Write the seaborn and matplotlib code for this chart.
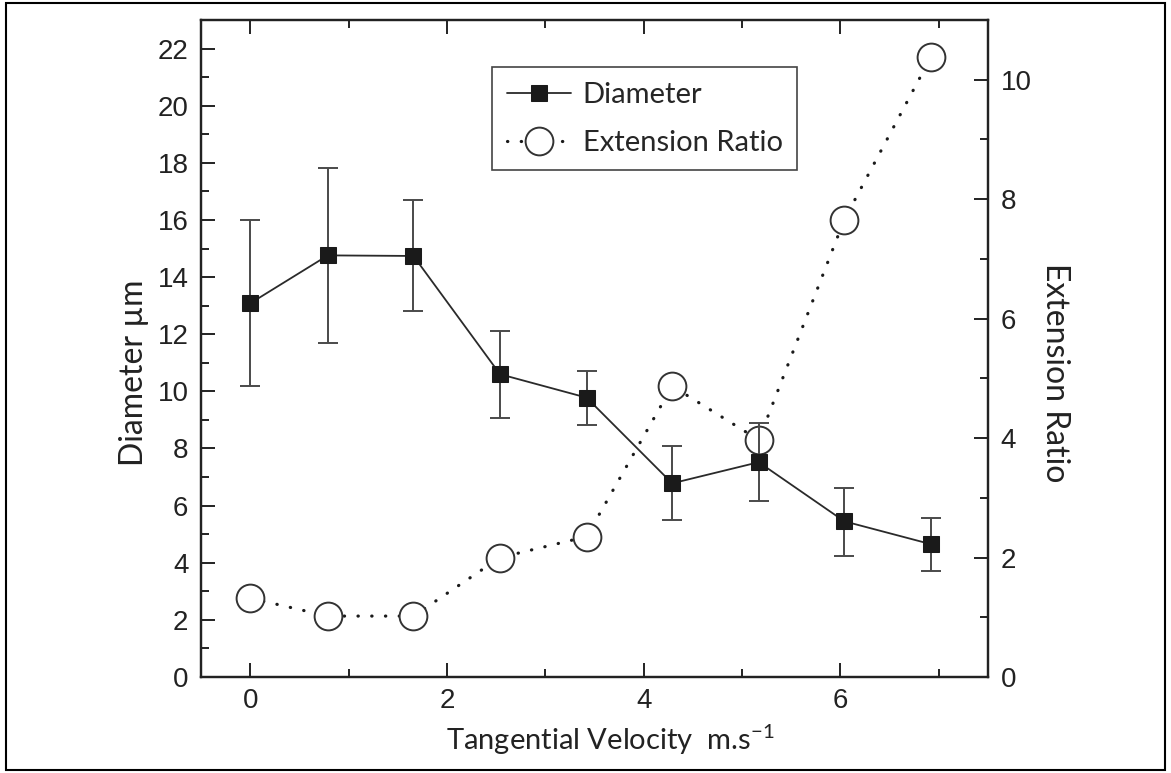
import matplotlib
matplotlib.use("Agg")
import matplotlib.pyplot as plt
import seaborn as sns
import numpy as np
import pandas as pd
from matplotlib.ticker import MultipleLocator
from matplotlib.patches import Rectangle

# ---- data ----
velocity = [0.0, 0.79, 1.66, 2.54, 3.42, 4.29, 5.17, 6.04, 6.92]
diameter = [13.08, 14.76, 14.74, 10.60, 9.78, 6.78, 7.52, 5.45, 4.65]
diam_upper = [16.0, 17.83, 16.71, 12.13, 10.72, 8.08, 8.88, 6.60, 5.58]
diam_lower = [10.17, 11.68, 12.80, 9.06, 8.81, 5.49, 6.15, 4.25, 3.72]
extension_ratio = [1.32, 1.02, 1.02, 2.00, 2.35, 4.87, 3.97, 7.66, 10.38]

xlabel = "Tangential Velocity  m.s$^{\\mathregular{-1}}$"
ylabel_left = "Diameter µm"
ylabel_right = "Extension Ratio"

df = pd.DataFrame({"v": velocity, "d": diameter, "lo": diam_lower,
                   "hi": diam_upper, "er": extension_ratio})

sns.set_style("ticks")
plt.rcParams["font.family"] = ["Liberation Sans", "DejaVu Sans"]
plt.rcParams["font.sans-serif"] = ["Liberation Sans", "DejaVu Sans"]
label_font = ["Lato", "DejaVu Sans"]

fig = plt.figure(figsize=(11.71, 7.73), dpi=100)
ax = fig.add_axes([0.1716, 0.1242, 0.6721, 0.8499])
ax2 = ax.twinx()

# error bars
yerr = np.array([df["d"] - df["lo"], df["hi"] - df["d"]])
ax.errorbar(df["v"], df["d"], yerr=yerr, fmt="none", ecolor="#4a4a4a",
            elinewidth=1.4, capsize=7, capthick=1.4, zorder=2)

sns.lineplot(data=df, x="v", y="d", ax=ax, color="#2a2a2a", linewidth=1.3,
             marker="s", markersize=12, markerfacecolor="#1a1a1a",
             markeredgecolor="#1a1a1a", label="Diameter", zorder=3)

sns.lineplot(data=df, x="v", y="er", ax=ax2, color="#1a1a1a", linewidth=2.3,
             linestyle=(0, (0.1, 4.2)), dash_capstyle="round",
             marker="o", markersize=20, markerfacecolor="white",
             markeredgecolor="#333333", markeredgewidth=1.4,
             label="Extension Ratio", zorder=3)

for a in (ax, ax2):
    leg = a.get_legend()
    if leg is not None:
        leg.remove()

ax.set_xlim(-0.5, 7.5)
ax.set_ylim(0, 23)
ax2.set_ylim(0, 11)

ax.xaxis.set_major_locator(MultipleLocator(2))
ax.xaxis.set_minor_locator(MultipleLocator(1))
ax.yaxis.set_major_locator(MultipleLocator(2))
ax.yaxis.set_minor_locator(MultipleLocator(1))
ax2.yaxis.set_major_locator(MultipleLocator(2))
ax2.yaxis.set_minor_locator(MultipleLocator(1))

for a in (ax, ax2):
    for s in a.spines.values():
        s.set_linewidth(1.6)
        s.set_color("#222222")

ax.tick_params(axis="both", which="both", direction="in", width=1.4,
               colors="#222222", labelsize=20, labelcolor="#222222")
ax.tick_params(axis="both", which="major", length=10)
ax.tick_params(axis="both", which="minor", length=5.5)
ax.tick_params(axis="x", top=True, which="both", pad=8)
ax.tick_params(axis="y", right=False, which="both", pad=9)
ax2.tick_params(axis="y", which="both", direction="in", width=1.4,
                colors="#222222", labelsize=20, labelcolor="#222222", pad=9)
ax2.tick_params(axis="y", which="major", length=10)
ax2.tick_params(axis="y", which="minor", length=5.5)

for lab in ax.get_xticklabels() + ax.get_yticklabels() + ax2.get_yticklabels():
    lab.set_fontfamily(["Liberation Sans", "DejaVu Sans"])

ax.set_xlabel(xlabel, fontsize=21, family=label_font, color="#222222", labelpad=6)
ax.set_ylabel(ylabel_left, fontsize=23, family=label_font, color="#222222", labelpad=6)
ax2.set_ylabel(ylabel_right, fontsize=23, family=label_font, color="#222222",
               rotation=270, labelpad=28)
ax.xaxis.label.set_x(0.52)
ax.yaxis.label.set_y(0.463)
ax2.yaxis.label.set_y(0.463)

h1, l1 = ax.get_legend_handles_labels()
h2, l2 = ax2.get_legend_handles_labels()
leg = ax.legend(h1 + h2, l1 + l2, loc="upper left", bbox_to_anchor=(0.370, 0.928),
                borderaxespad=0, fancybox=False, framealpha=1, edgecolor="#444444",
                prop={"family": label_font, "size": 21}, handlelength=2.2,
                numpoints=1, handletextpad=0.4, borderpad=0.5, labelspacing=0.75)
leg.get_frame().set_linewidth(1.2)
leg.set_zorder(10)
ax.set_zorder(ax2.get_zorder() + 1)
ax.patch.set_visible(False)

fig.patches.append(Rectangle((0.005, 0.004), 0.99, 0.992, transform=fig.transFigure,
                             fill=False, edgecolor="black", linewidth=1.5))

fig.savefig("out.png", dpi=100)
